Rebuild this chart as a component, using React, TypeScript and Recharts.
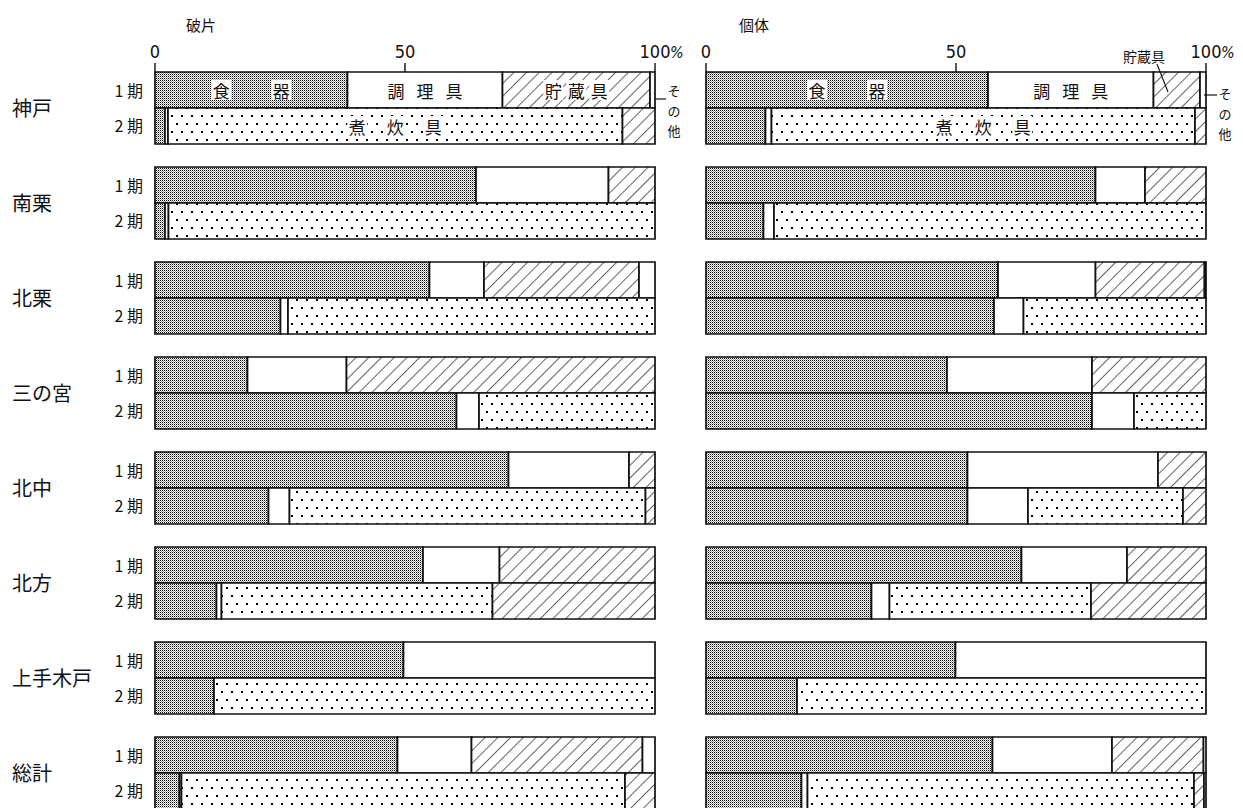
import React from "react";
import { BarChart, Bar, XAxis, YAxis, LabelList } from "recharts";

const sites = ["神戸", "南栗", "北栗", "三の宮", "北中", "北方", "上手木戸", "総計"];
const kinds = ["食器", "調理具", "煮炊具", "貯蔵具", "その他"];
const axisTicks = [0, 50, 100];

// 破片 (fragments), % per kind in the order of `kinds`
const fragP1 = [
  [38.5, 31.0, 0, 29.5, 1.0],
  [64.2, 26.5, 0, 9.3, 0],
  [54.9, 10.9, 0, 31.0, 3.2],
  [18.5, 19.8, 0, 61.7, 0],
  [70.7, 24.1, 0, 5.2, 0],
  [53.6, 15.3, 0, 31.1, 0],
  [49.7, 50.3, 0, 0, 0],
  [48.5, 14.8, 0, 34.2, 2.5],
];
const fragP2 = [
  [2.0, 0.6, 90.9, 6.5, 0],
  [2.0, 0.7, 97.3, 0, 0],
  [25.1, 1.5, 73.4, 0, 0],
  [60.3, 4.5, 35.2, 0, 0],
  [22.7, 4.2, 71.2, 1.9, 0],
  [12.3, 1.0, 54.2, 32.5, 0],
  [11.8, 0, 88.2, 0, 0],
  [4.9, 0.4, 88.7, 6.0, 0],
];

// 個体 (individuals)
const indivP1 = [
  [56.4, 33.1, 0, 9.3, 1.2],
  [77.9, 9.9, 0, 12.2, 0],
  [58.4, 19.5, 0, 21.8, 0.3],
  [48.2, 29.0, 0, 22.8, 0],
  [52.3, 38.1, 0, 9.6, 0],
  [63.1, 21.1, 0, 15.8, 0],
  [49.9, 50.1, 0, 0, 0],
  [57.3, 23.9, 0, 18.3, 0.5],
];
const indivP2 = [
  [11.9, 1.2, 84.7, 2.2, 0],
  [11.5, 2.1, 86.4, 0, 0],
  [57.6, 5.9, 36.5, 0, 0],
  [77.2, 8.4, 14.4, 0, 0],
  [52.3, 12.1, 31.0, 4.6, 0],
  [33.1, 3.6, 40.3, 23.0, 0],
  [18.2, 0, 81.8, 0, 0],
  [19.1, 1.2, 77.3, 2.0, 0.4],
];

const fills = ["url(#shokki)", "#fff", "url(#nitaki)", "url(#chozo)", "#fff"];

const JP = "'Noto Sans CJK JP', 'Noto Sans', sans-serif";
const NUM = "'Liberation Sans Narrow', 'DejaVu Sans Condensed', 'Liberation Sans', sans-serif";
const INK = "#111";
const BAR_TOP = 72;

function buildRows(p1: number[][], p2: number[][]) {
  return sites.map((site, i) => {
    const row: Record<string, any> = { site };
    kinds.forEach((_, j) => {
      row[`p1_${j}`] = p1[i][j];
      row[`p2_${j}`] = p2[i][j];
    });
    return row;
  });
}

const fragRows = buildRows(fragP1, fragP2);
const indivRows = buildRows(indivP1, indivP2);

type LabelSpec = { chars: string[]; gap: number };

const fragLabels: Record<string, LabelSpec> = {
  p1_0: { chars: ["食", "器"], gap: 60 },
  p1_1: { chars: ["調", "理", "具"], gap: 29 },
  p1_3: { chars: ["貯", "蔵", "具"], gap: 23 },
  p2_2: { chars: ["煮", "炊", "具"], gap: 38 },
};
const indivLabels: Record<string, LabelSpec> = {
  p1_0: { chars: ["食", "器"], gap: 60 },
  p1_1: { chars: ["調", "理", "具"], gap: 29 },
  p2_2: { chars: ["煮", "炊", "具"], gap: 39 },
};

const insideLabel = (spec: LabelSpec) => (props: any) => {
  if (props.index !== 0) return null;
  const vb = props.viewBox ?? props;
  const cx = vb.x + vb.width / 2;
  const cy = vb.y + vb.height / 2;
  const n = spec.chars.length;
  return (
    <g>
      {spec.chars.map((c, i) => {
        const x = cx + (i - (n - 1) / 2) * spec.gap;
        return (
          <g key={i}>
            <rect x={x - 10} y={cy - 10} width={20} height={20} fill="#fff" />
            <text x={x} y={cy} textAnchor="middle" dominantBaseline="central" fontSize={17} fontFamily={JP} fill={INK}>
              {c}
            </text>
          </g>
        );
      })}
    </g>
  );
};

const TopTick = (props: any) => {
  const { x, payload } = props;
  const isEnd = payload.value === 100;
  return (
    <g>
      <line x1={x} x2={x} y1={BAR_TOP - 9} y2={BAR_TOP} stroke={INK} strokeWidth={1.4} />
      <text x={x} y={58} textAnchor="middle" fontSize={18} fontFamily={NUM} fill={INK}>
        {payload.value}
      </text>
      {isEnd && (
        <text x={x + 15} y={58} fontSize={16} fontFamily={NUM} fontStyle="italic" fill={INK}>
          %
        </text>
      )}
    </g>
  );
};

const SiteTick = (props: any) => {
  const { y, payload } = props;
  return (
    <g>
      <text x={12} y={y} dominantBaseline="central" fontSize={20} fontFamily={JP} fill={INK}>
        {payload.value}
      </text>
      <text x={143} y={y - 17.75} textAnchor="end" dominantBaseline="central" fontSize={16} fontFamily={JP} fill={INK}>
        1 期
      </text>
      <text x={143} y={y + 17.75} textAnchor="end" dominantBaseline="central" fontSize={16} fontFamily={JP} fill={INK}>
        2 期
      </text>
    </g>
  );
};

function Panel({ rows, labels, width, left, showSites }: any) {
  const bars: React.ReactNode[] = [];
  ["p1", "p2"].forEach((p) => {
    kinds.forEach((k, j) => {
      const key = `${p}_${j}`;
      const spec = labels[key];
      bars.push(
        <Bar
          key={key}
          dataKey={key}
          name={`${p === "p1" ? "1期" : "2期"} ${k}`}
          stackId={p}
          fill={fills[j]}
          stroke={INK}
          strokeWidth={1.7}
          isAnimationActive={false}
        >
          {spec && <LabelList dataKey={key} content={insideLabel(spec)} />}
        </Bar>
      );
    });
  });

  return (
    <BarChart
      layout="vertical"
      width={width}
      height={830}
      data={rows}
      margin={{ top: 30, right: width - left - 500, left: showSites ? left - 150 : left, bottom: 10 }}
      barCategoryGap={12}
      barGap={0}
    >
      <XAxis
        type="number"
        orientation="top"
        domain={[0, 100]}
        ticks={axisTicks}
        interval={0}
        height={30}
        axisLine={false}
        tickLine={false}
        tick={<TopTick />}
      />
      <YAxis
        type="category"
        dataKey="site"
        width={150}
        hide={!showSites}
        axisLine={false}
        tickLine={false}
        tick={<SiteTick />}
      />
      {bars}
    </BarChart>
  );
}

export default function App() {
  const vText = (chars: string[], x: number, ys: number[]) =>
    chars.map((c, i) => (
      <text key={i} x={x} y={ys[i]} textAnchor="middle" dominantBaseline="central" fontSize={13} fontFamily={JP} fill={INK}>
        {c}
      </text>
    ));

  return (
    <div
      style={{
        position: "absolute",
        left: 0,
        top: 0,
        width: 1243,
        height: 808,
        overflow: "hidden",
        background: "#fff",
      }}
    >
      <svg width={0} height={0} style={{ position: "absolute" }}>
        <defs>
          <pattern id="shokki" patternUnits="userSpaceOnUse" width={2} height={2}>
            <rect width={2} height={2} fill="#fff" />
            <rect width={1} height={1} fill="#000" />
            <rect x={1} y={1} width={1} height={1} fill="#9a9a9a" />
          </pattern>
          <pattern id="nitaki" patternUnits="userSpaceOnUse" width={10} height={16}>
            <rect width={10} height={16} fill="#fff" />
            <rect x={1} y={3} width={2} height={2} fill="#000" />
            <rect x={6} y={11} width={2} height={2} fill="#000" />
          </pattern>
          <pattern id="chozo" patternUnits="userSpaceOnUse" width={9} height={9} patternTransform="rotate(45)">
            <rect width={9} height={9} fill="#fff" />
            <line x1={0} y1={0} x2={0} y2={9} stroke="#111" strokeWidth={1.3} />
          </pattern>
        </defs>
      </svg>

      <div style={{ position: "absolute", left: 0, top: 0 }}>
        <Panel rows={fragRows} labels={fragLabels} width={690} left={155} showSites />
      </div>
      <div style={{ position: "absolute", left: 690, top: 0 }}>
        <Panel rows={indivRows} labels={indivLabels} width={553} left={16} showSites={false} />
      </div>

      <svg width={1243} height={808} style={{ position: "absolute", left: 0, top: 0, pointerEvents: "none" }}>
        <text x={201} y={24} textAnchor="middle" dominantBaseline="central" fontSize={15} fontFamily={JP} fill={INK}>
          破片
        </text>
        <text x={754} y={24} textAnchor="middle" dominantBaseline="central" fontSize={15} fontFamily={JP} fill={INK}>
          個体
        </text>

        <line x1={655} y1={99} x2={666} y2={99} stroke={INK} strokeWidth={1.2} />
        {vText(["そ", "の", "他"], 674, [90, 110, 130])}

        <line x1={1204} y1={95} x2={1217} y2={95} stroke={INK} strokeWidth={1.2} />
        {vText(["そ", "の", "他"], 1225, [93, 113, 133])}

        <text x={1144} y={56} textAnchor="middle" dominantBaseline="central" fontSize={14} fontFamily={JP} fill={INK}>
          貯蔵具
        </text>
        <line x1={1157} y1={64} x2={1168} y2={92} stroke={INK} strokeWidth={1.1} />
      </svg>
    </div>
  );
}
